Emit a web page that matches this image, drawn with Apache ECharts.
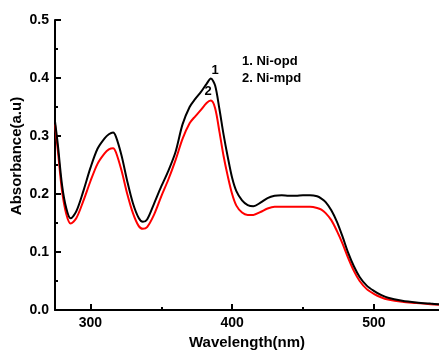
<!DOCTYPE html>
<html>
<head>
<meta charset="utf-8">
<script src="https://cdn.jsdelivr.net/npm/echarts@6/dist/echarts.min.js"></script>
<style>
html,body{margin:0;padding:0;background:#fff;}
#chart{width:439px;height:350px;}
</style>
</head>
<body>
<div id="chart"></div>
<script>
var wavelengths = [275,277,280,283,286,290,295,300,305,310,313,316,318,322,326,330,334,337,340,345,350,355,360,365,370,374,378,382,385,388,391,394,397,400,403,407,411,415,420,425,430,435,440,445,450,455,460,463,466,470,474,478,482,486,490,495,500,505,510,520,530,540,546];
var niOpd = [0.325,0.285,0.215,0.175,0.158,0.170,0.205,0.245,0.278,0.296,0.303,0.306,0.299,0.266,0.222,0.184,0.159,0.152,0.156,0.184,0.213,0.240,0.272,0.320,0.350,0.364,0.376,0.390,0.399,0.387,0.347,0.302,0.263,0.228,0.205,0.189,0.181,0.179,0.185,0.193,0.197,0.198,0.197,0.197,0.198,0.198,0.196,0.192,0.186,0.172,0.152,0.126,0.098,0.075,0.057,0.042,0.033,0.026,0.021,0.016,0.013,0.011,0.010];
var niMpd = [0.320,0.275,0.205,0.165,0.149,0.158,0.188,0.222,0.252,0.270,0.277,0.279,0.272,0.240,0.200,0.167,0.145,0.140,0.143,0.165,0.196,0.225,0.258,0.295,0.322,0.334,0.345,0.357,0.361,0.348,0.308,0.265,0.230,0.200,0.180,0.168,0.164,0.164,0.169,0.175,0.178,0.178,0.178,0.178,0.178,0.178,0.176,0.173,0.167,0.155,0.136,0.114,0.089,0.067,0.050,0.036,0.028,0.022,0.018,0.014,0.012,0.010,0.009];
var seriesNames = ['1. Ni-opd','2. Ni-mpd'];
var xTicks = [300,400,500];
var xMinorTicks = [350,450];

function pairs(xs, ys){ return xs.map(function(x,i){ return [x, ys[i]]; }); }

var font = '"Liberation Sans", Arial, Helvetica, sans-serif';
var chart = echarts.init(document.getElementById('chart'), null, {renderer:'canvas'});
chart.setOption({
  animation:false,
  backgroundColor:'#fff',
  grid:{left:55, top:20, right:0, bottom:40, containLabel:false, outerBoundsMode:'none'},
  xAxis:[{
    type:'value', min:275, max:546,
    axisLine:{show:true, lineStyle:{color:'#000', width:2}},
    axisTick:{show:true, inside:true, length:6, customValues:xTicks, lineStyle:{color:'#000', width:2}},
    axisLabel:{show:true, customValues:xTicks, margin:6, color:'#000', fontSize:14, fontWeight:'bold', fontFamily:font},
    splitLine:{show:false},
    name:'Wavelength(nm)', nameLocation:'middle', nameGap:24,
    nameTextStyle:{color:'#000', fontSize:15, fontWeight:'bold', fontFamily:font}
  },{
    type:'value', min:275, max:546, position:'bottom',
    axisLine:{show:false},
    axisTick:{show:true, inside:true, length:3, customValues:xMinorTicks, lineStyle:{color:'#000', width:2}},
    axisLabel:{show:false},
    splitLine:{show:false}
  }],
  yAxis:{
    type:'value', min:0, max:0.5, interval:0.1,
    axisLine:{show:true, lineStyle:{color:'#000', width:2}},
    axisTick:{show:true, inside:true, length:6, lineStyle:{color:'#000', width:2}},
    minorTick:{show:true, splitNumber:2, length:3, lineStyle:{color:'#000', width:2}},
    axisLabel:{margin:6, color:'#000', fontSize:14, fontWeight:'bold', fontFamily:font,
      formatter:function(v){return v.toFixed(1);}},
    splitLine:{show:false}
  },
  graphic:[
    {type:'text', left:242, top:55, style:{text:seriesNames[0], fill:'#000', font:'bold 13px '+font}},
    {type:'text', left:242, top:72, style:{text:seriesNames[1], fill:'#000', font:'bold 13px '+font}},
    {type:'text', x:17, y:156, rotation:Math.PI/2, style:{text:'Absorbance(a.u)', fill:'#000', font:'bold 15px '+font, align:'center', verticalAlign:'middle'}}
  ],
  series:[
    {name:seriesNames[0], type:'line', data:pairs(wavelengths, niOpd), smooth:0.3, showSymbol:false, xAxisIndex:0,
      lineStyle:{color:'#000', width:2}, itemStyle:{color:'#000'}, z:3,
      markPoint:{symbol:'circle', symbolSize:0, data:[{coord:[388,0.413]}],
        label:{show:true, formatter:'1', position:'inside', color:'#000', fontSize:13, fontWeight:'bold', fontFamily:font}}},
    {name:seriesNames[1], type:'line', data:pairs(wavelengths, niMpd), smooth:0.3, showSymbol:false, xAxisIndex:0,
      lineStyle:{color:'#ff0000', width:2}, itemStyle:{color:'#ff0000'}, z:2,
      markPoint:{symbol:'circle', symbolSize:0, data:[{coord:[383,0.376]}],
        label:{show:true, formatter:'2', position:'inside', color:'#000', fontSize:13, fontWeight:'bold', fontFamily:font}}}
  ]
});
</script>
</body>
</html>
